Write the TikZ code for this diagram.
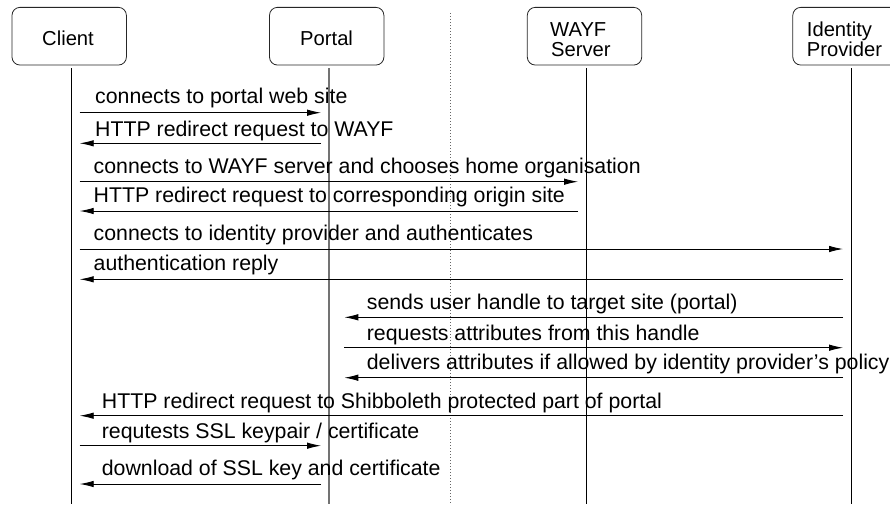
\documentclass[tikz,border=0pt]{standalone}
\usepackage{fontspec}
\setmainfont{Liberation Sans}
\usetikzlibrary{arrows.meta}
\newcommand\mymsg[7]{%
  \coordinate (#1s) at (#3,#2);
  \coordinate (#1e) at (#4,#2);
  \draw[msg] (#1s) -- (#1e);
  \node[mtext] (#1t) at (#5,#6) {#7};}
\begin{document}
\begin{tikzpicture}[x=1pt,y=-1pt,
  hdr/.style={draw=black!85, rounded corners=8pt, minimum width=114.4pt, minimum height=57.7pt, line width=0.8pt, inner sep=0pt},
  htext/.style={anchor=base west, inner sep=0pt, font=\fontsize{20.2}{20}\selectfont},
  life/.style={line width=0.9pt},
  msg/.style={line width=0.9pt, -{Latex[length=14pt,width=6.5pt]}},
  mtext/.style={anchor=base west, inner sep=0pt, font=\fontsize{21.3}{21}\selectfont}]
\clip (0,0) rectangle (890,504);

% header boxes
\node[hdr] (client) at (69.2,36.2) {};
\node[hdr] (portal) at (326.7,36.2) {};
\node[hdr] (wayf) at (584.5,36.2) {};
\node[hdr] (idp) at (850,36.2) {};
\node[htext] (clientt) at (42,45) {Client};
\node[htext] (portalt) at (300,45) {Portal};
\node[htext] (wayft1) at (550,36.7) {WAYF};
\node[htext] (wayft2) at (551,56.7) {Server};
\node[htext] (idpt1) at (806.7,36.7) {Identity};
\node[htext] (idpt2) at (806.7,56.7) {Provider};

% lifelines
\coordinate (clt) at (71.5,68.3);  \coordinate (clb) at (71.5,504);
\coordinate (plt) at (329,68.3);   \coordinate (plb) at (329,504);
\coordinate (wlt) at (586.5,68.3); \coordinate (wlb) at (586.5,504);
\coordinate (ilt) at (851.7,68.3); \coordinate (ilb) at (851.7,504);
\draw[life] (clt) -- (clb);
\draw[life, draw=black!55, line width=1.6pt] (plt) -- (plb);
\draw[life] (wlt) -- (wlb);
\draw[life] (ilt) -- (ilb);

% dotted separator
\coordinate (dt) at (450,13); \coordinate (db) at (450,504);
\draw[black!60, line width=0.8pt, dash pattern=on 1pt off 2pt] (dt) -- (db);

% messages
\mymsg{m1}{112.7}{79.7}{321}{95}{103.5}{connects to portal web site}
\mymsg{m2}{143.3}{321}{79.7}{95}{136.5}{HTTP redirect request to WAYF}
\mymsg{m3}{181.7}{79.7}{578}{93.5}{173.3}{connects to WAYF server and chooses home organisation}
\mymsg{m4}{211}{578}{79.7}{93.5}{202.7}{HTTP redirect request to corresponding origin site}
\mymsg{m5}{249}{79.7}{843}{93.5}{240}{connects to identity provider and authenticates}
\mymsg{m6}{279.3}{843}{79.7}{93.5}{270}{authentication reply}
\mymsg{m7}{317.3}{843}{344.3}{366.7}{309}{sends user handle to target site (portal)}
\mymsg{m8}{347.7}{344.3}{843}{366.7}{340}{requests attributes from this handle}
\mymsg{m9}{377.7}{843}{344.3}{366.7}{369.3}{delivers attributes if allowed by identity provider’s policy}
\mymsg{m10}{415.7}{843}{79.7}{101.7}{408.3}{HTTP redirect request to Shibboleth protected part of portal}
\mymsg{m11}{445.7}{79.7}{321}{101.7}{438.3}{requtests SSL keypair / certificate}
\mymsg{m12}{484}{321}{79.7}{101.7}{475}{download of SSL key and certificate}
\end{tikzpicture}
\end{document}
